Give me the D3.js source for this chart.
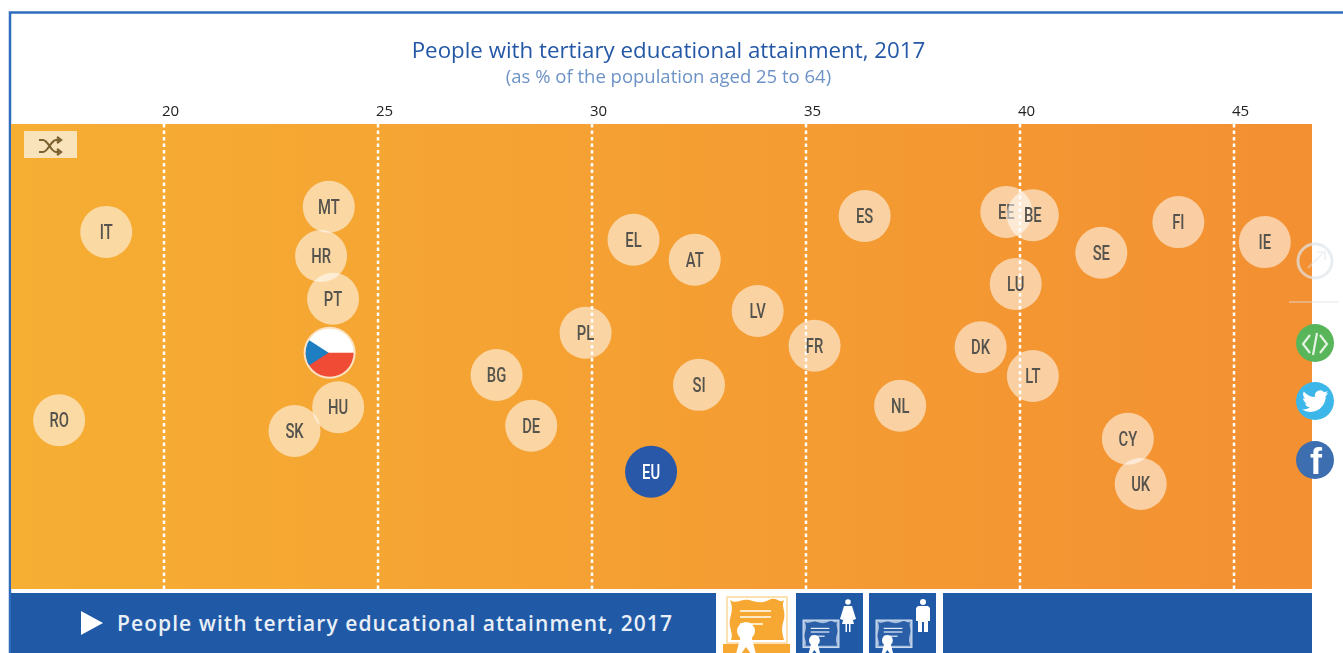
<!DOCTYPE html>
<html>
<head>
<meta charset="utf-8">
<script src="https://cdn.jsdelivr.net/npm/d3@7"></script>
<style>
    html, body { margin: 0; padding: 0; background: #fff; overflow: hidden; }
    svg { display: block; filter: blur(0.5px); }
    text { font-family: "Open Sans", sans-serif; }
</style>
</head>
<body>
<script>
"use strict";
const countries = ["RO","IT","MT","HR","PT","CZ","HU","SK","BG","DE","PL","EL","AT","SI","EU","LV","FR","ES","NL","DK","EE","BE","LU","LT","SE","CY","UK","FI","IE"]
const attainment = [17.55,18.65,23.85,23.67,23.95,23.87,24.07,23.05,27.77,28.58,29.85,30.97,32.4,32.5,31.38,33.87,35.2,36.37,37.2,39.08,39.68,40.3,39.9,40.3,41.9,42.52,42.82,43.7,45.72]
const shuffle = [63.7,23.2,17.8,28.4,37.6,49.2,60.9,66,54,64.9,44.9,24.9,29.2,56.1,74.8,40.2,47.7,19.8,60.6,48,18.9,19.6,34.4,54.2,27.7,67.7,77.4,21.1,25.4]
const tickLabels = [20,25,30,35,40,45]

const titleText = "People with tertiary educational attainment, 2017"
const subtitleText = "(as % of the population aged 25 to 64)"

const measurements = {
    width: 1343,
    height: 653,
    panelLeft: 11,
    panelRight: 1312,
    panelTop: 124,
    panelBottom: 589,
    radius: 26
}
const blue = "#205aa7"
const orange = "#f6a832"

const svg = d3.select("body").append("svg")
    .attr("width", measurements.width)
    .attr("height", measurements.height)

const scaleX = d3.scaleLinear().domain([20, 45]).range([164, 1234])
const scaleY = d3.scaleLinear().domain([0, 100]).range([measurements.panelTop, measurements.panelBottom])

const defs = svg.append("defs")
const grad = defs.append("linearGradient").attr("id", "panelGrad")
grad.append("stop").attr("offset", "0%").attr("stop-color", "#f6ae33")
grad.append("stop").attr("offset", "100%").attr("stop-color", "#f39032")
defs.append("clipPath").attr("id", "flagClip").append("circle").attr("r", measurements.radius - 2)

drawFrame()
drawPanel()
drawAxis()
drawBubbles()
drawBottomBar()
drawSideIcons()

function drawFrame() {
    svg.append("path")
        .attr("d", "M10,653V12.5H1343")
        .attr("fill", "none")
        .attr("stroke", "#2f6cbd")
        .attr("stroke-width", 2.5)
    svg.append("text")
        .attr("x", 668.5).attr("y", 58)
        .attr("text-anchor", "middle")
        .attr("font-size", 22.3)
        .attr("fill", "#2458a6")
        .text(titleText)
    svg.append("text")
        .attr("x", 668.5).attr("y", 83)
        .attr("text-anchor", "middle")
        .attr("font-size", 18.5)
        .attr("fill", "#6d92c6")
        .text(subtitleText)
}

function drawPanel() {
    svg.append("rect")
        .attr("x", measurements.panelLeft)
        .attr("y", measurements.panelTop)
        .attr("width", measurements.panelRight - measurements.panelLeft)
        .attr("height", measurements.panelBottom - measurements.panelTop)
        .attr("fill", "url(#panelGrad)")

    // shuffle button
    svg.append("rect").attr("x", 24).attr("y", 131).attr("width", 53).attr("height", 27).attr("fill", "#f9e3bb")
    svg.append("path")
        .attr("d", "M39,140h4c5,0,8,12,13,12h3M39,152h4c5,0,8,-12,13,-12h3M57,137l4,3l-4,3M57,149l4,3l-4,3")
        .attr("fill", "none")
        .attr("stroke", "#7b6030")
        .attr("stroke-width", 2.2)
}

function drawAxis() {
    svg.selectAll(".grid")
        .data(tickLabels)
        .enter()
        .append("line")
            .attr("class", "grid")
            .attr("x1", d => scaleX(d))
            .attr("x2", d => scaleX(d))
            .attr("y1", measurements.panelTop)
            .attr("y2", measurements.panelBottom)
            .attr("stroke", "#fff")
            .attr("stroke-width", 2.5)
            .attr("stroke-dasharray", "3.5,3")

    const xAxis = d3.axisTop(scaleX).tickValues(tickLabels).tickSize(0).tickPadding(0)
    const axis = svg.append("g")
        .attr("transform", "translate(6,116)")
        .call(xAxis)
    axis.select(".domain").remove()
    axis.selectAll("text")
        .attr("font-size", 15)
        .attr("font-family", "'Open Sans', sans-serif")
        .attr("fill", "#222")
}

function drawBubbles() {
    const rows = countries.map((c, i) => ({ code: c, value: attainment[i], pos: shuffle[i] }))
    const nodes = svg.selectAll(".bubble")
        .data(rows)
        .enter()
        .append("g")
            .attr("class", "bubble")
            .attr("transform", d => `translate(${scaleX(d.value)},${scaleY(d.pos)})`)

    nodes.append("circle")
        .attr("r", measurements.radius)
        .attr("fill", d => d.code === "EU" ? "#2a58a8" : "#fff")
        .attr("fill-opacity", d => d.code === "EU" ? 1 : 0.55)

    // labels are condensed in the original, squeeze them horizontally
    nodes.filter(d => d.code !== "CZ").append("text")
        .attr("text-anchor", "middle")
        .attr("transform", "translate(0,7) scale(0.74,1)")
        .attr("font-size", 20)
        .attr("font-weight", 500)
        .style("font-family", "Roboto, sans-serif")
        .attr("fill", d => d.code === "EU" ? "#fff" : "#55534d")
        .text(d => d.code)

    // the highlighted country gets its flag instead of a label
    const flag = nodes.filter(d => d.code === "CZ")
    flag.select("circle").attr("fill-opacity", 1).attr("fill", "#fbe3c4")
    const r = measurements.radius
    const inner = flag.append("g").attr("clip-path", "url(#flagClip)")
    inner.append("rect").attr("x", -r).attr("y", -r).attr("width", 2 * r).attr("height", r).attr("fill", "#fff")
    inner.append("rect").attr("x", -r).attr("y", 0).attr("width", 2 * r).attr("height", r).attr("fill", "#ef4b35")
    inner.append("path").attr("d", `M${-r},${-r * 0.62}L-1,0L${-r},${r * 0.62}Z`).attr("fill", "#1d7fc1")
}

function drawCertificate(g, main, edge, back, lines) {
    // drawn in a 60x48 box, the medal hangs below it
    g.append("rect").attr("width", 60).attr("height", 46).attr("fill", back).attr("stroke", edge).attr("stroke-width", 1.5)
    g.append("path")
        .attr("d", "M3,3C9,8,15,1,22,3S34,7,42,3S52,7,57,3C54,10,59,14,57,22S54,32,57,43H4C7,36,1,30,3,22S6,10,3,3Z")
        .attr("fill", main)
    ;[[13,14,44],[13,20,44],[13,27,36]].forEach(l => {
        g.append("line").attr("x1", l[0]).attr("x2", l[2]).attr("y1", l[1]).attr("y2", l[1])
            .attr("stroke", lines).attr("stroke-width", 2)
    })
    g.append("path").attr("d", "M14,38L9,57H14L19,50L24,57H29L24,38Z").attr("fill", "#fff")
    g.append("circle").attr("cx", 19).attr("cy", 34).attr("r", 9).attr("fill", "#fff")
}

function drawBottomBar() {
    const barTop = 593
    const barH = measurements.height - barTop
    ;[[11,705],[796,67],[869,67],[943,369]].forEach(b => {
        svg.append("rect").attr("x", b[0]).attr("y", barTop).attr("width", b[1]).attr("height", barH).attr("fill", blue)
    })
    svg.append("path").attr("d", "M81,611L103,623L81,635Z").attr("fill", "#fff")
    svg.append("text")
        .attr("x", 117).attr("y", 631)
        .attr("font-size", 21)
        .attr("font-weight", 600)
        .attr("letter-spacing", 1.06)
        .attr("fill", "#e9eff7")
        .text(titleText)

    // selected tile: all people
    svg.append("rect").attr("x", 723).attr("y", 644).attr("width", 67).attr("height", 9).attr("fill", orange)
    drawCertificate(svg.append("g").attr("transform", "translate(727,597)"), orange, "#fbd99a", "#fff", "#fde9c6")

    // women and men tiles
    drawCertificate(svg.append("g").attr("transform", "translate(803,620) scale(0.6)"), "#2a5fa8", "#dbe5f2", "#a8c0e0", "#e8eef7")
    drawCertificate(svg.append("g").attr("transform", "translate(876,620) scale(0.6)"), "#2a5fa8", "#dbe5f2", "#a8c0e0", "#e8eef7")

    // woman
    svg.append("circle").attr("cx", 848).attr("cy", 602).attr("r", 2.8).attr("fill", "#fff")
    svg.append("path").attr("d", "M844,606H852L856,619L853,620L852,617L854,624H850.5V632H849V624H847V632H845.5V624H842L844,617L843,620L840,619Z").attr("fill", "#fff")
    // man
    svg.append("circle").attr("cx", 923).attr("cy", 602).attr("r", 3).attr("fill", "#fff")
    svg.append("path").attr("d", "M918,606H928L930,608V621H928V632H924V622H922V632H918V621H916V608Z").attr("fill", "#fff")
}

function drawSideIcons() {
    const cx = 1315
    svg.append("circle").attr("cx", cx).attr("cy", 261).attr("r", 17)
        .attr("fill", "none").attr("stroke", "#dfe5ea").attr("stroke-opacity", 0.7).attr("stroke-width", 3)
    svg.append("path").attr("d", "M1308,268L1324,252M1317,252H1325V260")
        .attr("fill", "none").attr("stroke", "#dfe5ea").attr("stroke-opacity", 0.45).attr("stroke-width", 2)
    svg.append("line").attr("x1", 1289).attr("x2", 1339).attr("y1", 302).attr("y2", 302)
        .attr("stroke", "#e4e4e4").attr("stroke-opacity", 0.55).attr("stroke-width", 1.5)

    svg.append("circle").attr("cx", cx).attr("cy", 343).attr("r", 19).attr("fill", "#58b55a")
    svg.append("path").attr("d", "M1310,335L1303,344L1310,353M1320,335L1327,344L1320,353M1317,333L1313,355")
        .attr("fill", "none").attr("stroke", "#e4f3e2").attr("stroke-width", 2.2)

    svg.append("circle").attr("cx", cx).attr("cy", 401).attr("r", 19).attr("fill", "#3db7e9")
    svg.append("path")
        .attr("transform", "translate(1302,388) scale(1.1)")
        .attr("d", "M23.95 4.57a10 10 0 0 1-2.82.77 4.96 4.96 0 0 0 2.16-2.72c-.95.55-2 .95-3.12 1.18a4.92 4.92 0 0 0-8.38 4.48C7.69 8.09 4.07 6.13 1.64 3.16a4.82 4.82 0 0 0-.66 2.48c0 1.71.87 3.21 2.19 4.1a4.9 4.9 0 0 1-2.23-.61v.06c0 2.39 1.7 4.38 3.95 4.83a5 5 0 0 1-2.21.09 4.94 4.94 0 0 0 4.6 3.42A9.87 9.87 0 0 1 0 19.54a14 14 0 0 0 7.56 2.21c9.05 0 14-7.5 14-13.98 0-.21 0-.42-.02-.63a9.94 9.94 0 0 0 2.46-2.55z")
        .attr("fill", "#fff")

    svg.append("circle").attr("cx", cx).attr("cy", 460).attr("r", 19).attr("fill", "#3d6eb0")
    svg.append("text")
        .attr("x", cx + 1).attr("y", 474)
        .attr("text-anchor", "middle")
        .attr("font-size", 36)
        .attr("font-weight", 700)
        .style("font-family", "'Liberation Sans', sans-serif")
        .attr("fill", "#fff")
        .text("f")
}
</script>
</body>
</html>
